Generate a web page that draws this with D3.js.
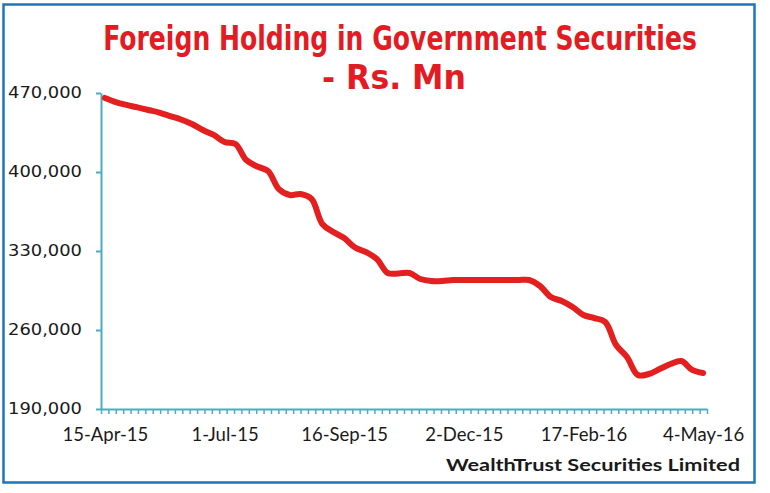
<!DOCTYPE html>
<html><head><meta charset="utf-8">
<script src="https://cdn.jsdelivr.net/npm/d3@7"></script>
<style>body{margin:0;background:#fff}svg{display:block}</style>
</head><body><svg id="c" width="770" height="493"></svg>
<script>
// ---- data ----
const dates = ["2015-04-15","2015-04-22","2015-04-29","2015-05-06","2015-05-13","2015-05-20","2015-05-27",
"2015-06-03","2015-06-10","2015-06-17","2015-06-24","2015-07-01","2015-07-08","2015-07-15","2015-07-22","2015-07-29",
"2015-08-05","2015-08-12","2015-08-19","2015-08-26","2015-09-02","2015-09-09","2015-09-16","2015-09-23","2015-09-30",
"2015-10-07","2015-10-14","2015-10-21","2015-10-28","2015-11-04","2015-11-11","2015-11-18","2015-11-25",
"2015-12-02","2015-12-09","2015-12-16","2015-12-23","2015-12-30","2016-01-06","2016-01-13","2016-01-20","2016-01-27",
"2016-02-03","2016-02-10","2016-02-17","2016-02-24","2016-03-02","2016-03-09","2016-03-16","2016-03-23","2016-03-30",
"2016-04-06","2016-04-13","2016-04-20","2016-04-27","2016-05-04"];
const holdings = [465600,462000,459400,457200,454900,452700,449600,446500,442500,437200,
432800,426600,424800,410600,404900,400900,384900,379600,380500,376100,
353900,346800,341500,333100,329100,322900,310500,310100,310500,305200,
303400,303400,304300,304300,304300,304300,304300,304300,304300,304300,
299000,289200,285700,280400,273300,270600,267100,246700,236100,220100,
221000,225400,229900,232500,224600,221900];
const yTicks = [190000,260000,330000,400000,470000];
const xLabelDates = ["2015-04-15","2015-07-01","2015-09-16","2015-12-02","2016-02-17","2016-05-04"];
const titleLines = ["Foreign Holding in Government Securities","- Rs. Mn"];
const footer = "WealthTrust Securities Limited";

// ---- setup ----
const svg = d3.select("#c");
const parse = d3.utcParse("%Y-%m-%d");
const fmtDate = d3.utcFormat("%-d-%b-%y");
const data = dates.map((d,i)=>({date:parse(d), v:holdings[i]}));
const DAY = 864e5;
const d0 = new Date(data[0].date.getTime() - 2.5*DAY);
const d1 = new Date(data[data.length-1].date.getTime() + 2.5*DAY);

const axisColor = "#4bacc6";
const x = d3.scaleUtc().domain([d0,d1]).range([101,707]);
const y = d3.scaleLinear().domain([190000,470000]).range([409,93]);

// frame
svg.append("rect").attr("x",3.5).attr("y",4.5).attr("width",751).attr("height",478)
  .attr("fill","#fff").attr("stroke","#1c76bf").attr("stroke-width",2.5);

// title: fit to measured width, stretched vertically like a condensed display face
const tFont = "'Liberation Sans Narrow','DejaVu Sans Condensed','Arial Narrow',sans-serif";
function title(txt, cx, by, w, sy){
  const t = svg.append("text").attr("text-anchor","middle")
    .attr("font-family",tFont).attr("font-weight","bold").attr("font-size",30)
    .attr("fill","#e31b23").text(txt);
  const len = t.node().getComputedTextLength();
  t.attr("transform",`translate(${cx},${by}) scale(${w/len},${sy})`);
}
title(titleLines[0], 400, 50, 594, 1.12);
title(titleLines[1], 394, 89, 144, 1.12);

// y axis
const gy = svg.append("g").attr("transform","translate(101,0)")
  .call(d3.axisLeft(y).tickValues(yTicks).tickSize(5).tickSizeOuter(0).tickPadding(14).tickFormat(d3.format(",")));
gy.select(".domain").attr("stroke",axisColor).attr("stroke-width",2);
gy.selectAll(".tick line").attr("stroke",axisColor).attr("stroke-width",2);
gy.selectAll(".tick text").attr("font-family","'DejaVu Sans',sans-serif").attr("font-size",15)
  .attr("fill","#1a1a1a").attr("textLength",74).attr("lengthAdjust","spacingAndGlyphs");

// x axis minor ticks
const span = d1 - d0;
const minorTicks = d3.range(0,83).map(k=>new Date(d0.getTime() + k*span/82));
const gx = svg.append("g").attr("transform","translate(0,409)")
  .call(d3.axisBottom(x).tickValues(minorTicks).tickSize(5).tickSizeOuter(0).tickFormat(""));
gx.select(".domain").attr("stroke",axisColor).attr("stroke-width",2);
gx.selectAll(".tick line").attr("stroke",axisColor).attr("stroke-width",1.5);

// x labels
const gl = svg.append("g").attr("transform","translate(0,409)")
  .call(d3.axisBottom(x).tickValues(xLabelDates.map(parse)).tickSize(0).tickPadding(19).tickFormat(fmtDate));
gl.select(".domain").remove();
gl.selectAll(".tick text").attr("font-family","Lato,'Open Sans',sans-serif").attr("font-size",18.5).attr("fill","#1a1a1a");

// line
const line = d3.line().x(d=>x(d.date)).y(d=>y(d.v)).curve(d3.curveCatmullRom.alpha(0.5));
svg.append("path").datum(data).attr("d",line).attr("fill","none")
  .attr("stroke","#e3201f").attr("stroke-width",6).attr("stroke-linecap","round").attr("stroke-linejoin","round");

// footer
svg.append("text").attr("x",740).attr("y",471).attr("text-anchor","end")
  .attr("font-family","Lato,'Open Sans',sans-serif").attr("font-weight","bold").attr("font-size",17)
  .attr("fill","#1a1a1a").attr("textLength",294).attr("lengthAdjust","spacingAndGlyphs").text(footer);
</script></body></html>
